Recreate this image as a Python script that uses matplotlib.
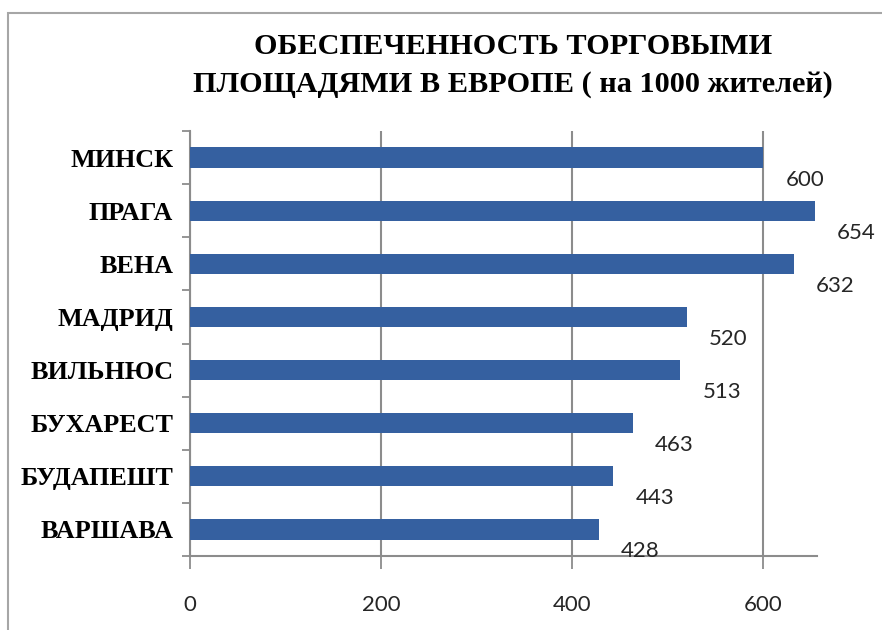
import matplotlib
matplotlib.use("Agg")
import matplotlib.pyplot as plt
from matplotlib.patches import Rectangle
from matplotlib.ticker import FixedLocator

cities = ["МИНСК", "ПРАГА", "ВЕНА", "МАДРИД", "ВИЛЬНЮС", "БУХАРЕСТ", "БУДАПЕШТ", "ВАРШАВА"]
values = [600, 654, 632, 520, 513, 463, 443, 428]
xticks = [0, 200, 400, 600]
title_l1 = "ОБЕСПЕЧЕННОСТЬ ТОРГОВЫМИ"
title_l2 = "ПЛОЩАДЯМИ В ЕВРОПЕ ( на 1000 жителей)"

W, H = 882, 630
fig = plt.figure(figsize=(W / 100, H / 100), dpi=100)
fig.patch.set_facecolor("white")

# outer frame
fig.patches.append(Rectangle((8 / W, -0.1), 1.2, 1 - 13 / H + 0.1, transform=fig.transFigure,
                             fill=False, edgecolor="#a6a6a6", linewidth=1.5))

ax = fig.add_axes([190 / W, 1 - 556 / H, (817 - 190) / W, (556 - 131) / H])
bar_color = "#3560a0"
grid_color = "#8c8c8c"

y = list(range(len(cities)))
ax.barh(y, values, height=0.38, color=bar_color, zorder=3)
ax.set_ylim(len(cities) - 0.5, -0.5)
ax.set_xlim(0, 656)

ax.set_xticks(xticks)
ax.set_xticklabels([str(t) for t in xticks], fontfamily="Lato", fontsize=16, color="#262626")
ax.set_yticks(y)
ax.set_yticklabels(cities, fontfamily="Liberation Serif", fontweight="bold", fontsize=18.8, color="black")
ax.yaxis.set_minor_locator(FixedLocator([i - 0.5 for i in range(len(cities) + 1)]))
ax.tick_params(axis="y", which="major", length=0, pad=12)
ax.tick_params(axis="y", which="minor", length=6, width=1.3, color=grid_color, direction="out")
ax.tick_params(axis="x", which="major", length=9, width=1.3, color=grid_color, direction="out", pad=19)

for s in ["top", "right"]:
    ax.spines[s].set_visible(False)
for s in ["left", "bottom"]:
    ax.spines[s].set_color(grid_color)
    ax.spines[s].set_linewidth(1.5)

ax.xaxis.grid(True, color=grid_color, linewidth=1.5, zorder=0)
ax.set_axisbelow(True)

for yi, v in zip(y, values):
    ax.annotate(str(v), xy=(v, yi), xytext=(22, -22), textcoords="offset pixels",
                ha="left", va="center", fontfamily="Lato", fontsize=16, color="#262626", zorder=5)

fig.text(513 / W, 1 - 47 / H, title_l1, ha="center", va="center", fontfamily="Liberation Serif",
         fontweight="bold", fontsize=21.8)
fig.text(513 / W, 1 - 85 / H, title_l2, ha="center", va="center", fontfamily="Liberation Serif",
         fontweight="bold", fontsize=21.8)

fig.savefig("out.png", dpi=100, facecolor="white")
